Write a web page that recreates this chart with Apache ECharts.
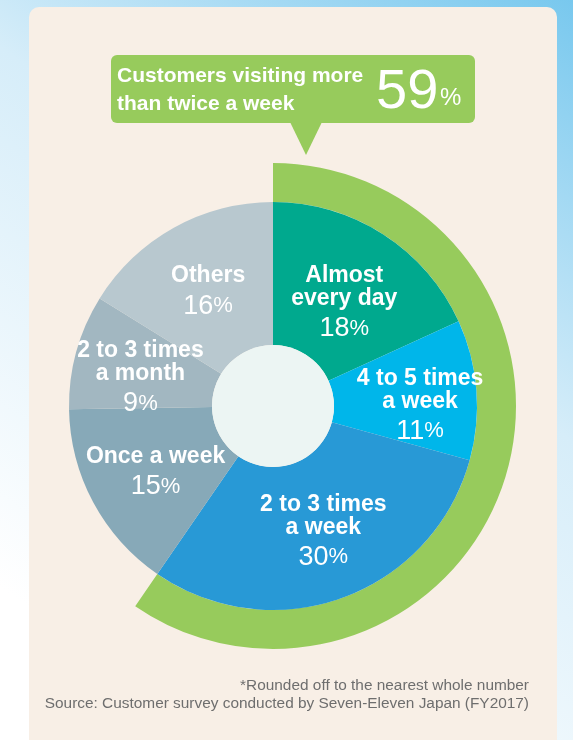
<!DOCTYPE html>
<html>
<head>
<meta charset="utf-8">
<script src="https://cdn.jsdelivr.net/npm/echarts@6/dist/echarts.min.js"></script>
<style>
  html, body { margin: 0; padding: 0; }
  #main { width: 573px; height: 740px; }
</style>
</head>
<body>
<div id="main"></div>
<script>
// survey data (percent, rounded)
var names = ['Almost\nevery day', '4 to 5 times\na week', '2 to 3 times\na week', 'Once a week', '2 to 3 times\na month', 'Others'];
var shares = [18, 11, 30, 15, 9, 16];
var colors = ['#00a98e', '#00b6ea', '#2899d6', '#87a9b8', '#a2b7c1', '#b8c8cf'];
// the first three slices make up "more than twice a week"
var frequentCount = 3;

// small nudges so the labels sit where the original layout puts them
var labelNudge = [[-2, 14], [12, 13], [4, 1], [2, 5], [-2, 11], [1, 7]];

var frequent = 0, rest = 0;
shares.forEach(function (v, i) {
    if (i < frequentCount) frequent += v; else rest += v;
});

var font = '"Liberation Sans", Arial, Helvetica, sans-serif';
var cx = 273, cy = 406;

var pieData = names.map(function (n, i) {
    return { name: n, value: shares[i], itemStyle: { color: colors[i] } };
});

option = {
    backgroundColor: {
        type: 'linear', x: 1, y: 0, x2: 0.2, y2: 0.9,
        colorStops: [
            { offset: 0, color: '#78c8ee' },
            { offset: 0.45, color: '#d6edf9' },
            { offset: 1, color: '#ffffff' }
        ]
    },
    animation: false,
    graphic: [
        {
            type: 'rect', z: 0,
            shape: { x: 29, y: 7, width: 528, height: 760, r: 10 },
            style: { fill: '#f8efe6' }
        },
        {
            type: 'rect', z: 1,
            shape: { x: 111, y: 55, width: 364, height: 68, r: 6 },
            style: { fill: '#97cb5c' }
        },
        {
            type: 'polygon', z: 1,
            shape: { points: [[290, 122], [322, 122], [306, 155]] },
            style: { fill: '#97cb5c' }
        },
        {
            type: 'text', z: 2, x: 117, y: 62,
            style: {
                text: 'Customers visiting more\nthan twice a week',
                fill: '#fff', font: 'bold 21px ' + font, lineHeight: 28
            }
        },
        {
            type: 'text', z: 2, x: 376, y: 65,
            style: { text: String(frequent), fill: '#fff', font: '56px ' + font }
        },
        {
            type: 'text', z: 2, x: 440, y: 86,
            style: { text: '%', fill: '#fff', font: '24px ' + font }
        },
        {
            type: 'circle', z: 10,
            shape: { cx: cx, cy: cy, r: 61 },
            style: { fill: '#ecf5f3' }
        },
        {
            type: 'text', z: 2, x: 529, y: 677,
            style: {
                text: '*Rounded off to the nearest whole number\nSource: Customer survey conducted by Seven-Eleven Japan (FY2017)',
                align: 'right', fill: '#6e6e6e', font: '15.4px ' + font, lineHeight: 18
            }
        }
    ],
    series: [
        {
            type: 'pie',
            center: [cx, cy],
            radius: [61, 204],
            startAngle: 90,
            clockwise: true,
            silent: true,
            z: 5,
            itemStyle: { borderWidth: 0 },
            label: {
                position: 'inside',
                color: '#fff',
                fontFamily: font,
                formatter: function (p) {
                    var lines = p.name.split('\n').map(function (l) { return '{n|' + l + '}'; });
                    return lines.join('\n') + '\n{v|' + p.value + '}{p|%}';
                },
                rich: {
                    n: { fontSize: 23, fontWeight: 'bold', lineHeight: 23, color: '#fff', fontFamily: font },
                    v: { fontSize: 27, lineHeight: 37, color: '#fff', fontFamily: font },
                    p: { fontSize: 22, lineHeight: 37, color: '#fff', fontFamily: font }
                }
            },
            labelLayout: function (params) {
                var d = labelNudge[params.dataIndex];
                return { dx: d[0], dy: d[1] };
            },
            labelLine: { show: false },
            data: pieData
        },
        {
            type: 'pie',
            center: [cx, cy],
            radius: [204, 243],
            startAngle: 90,
            clockwise: true,
            silent: true,
            z: 4,
            label: { show: false },
            labelLine: { show: false },
            data: [
                { name: 'frequent', value: frequent, itemStyle: { color: '#97cb5c' } },
                { name: 'rest', value: rest, itemStyle: { color: 'rgba(0,0,0,0)' } }
            ]
        }
    ]
};

var chartDom = document.getElementById('main');
var myChart = echarts.init(chartDom);
myChart.setOption(option);
</script>
</body>
</html>
